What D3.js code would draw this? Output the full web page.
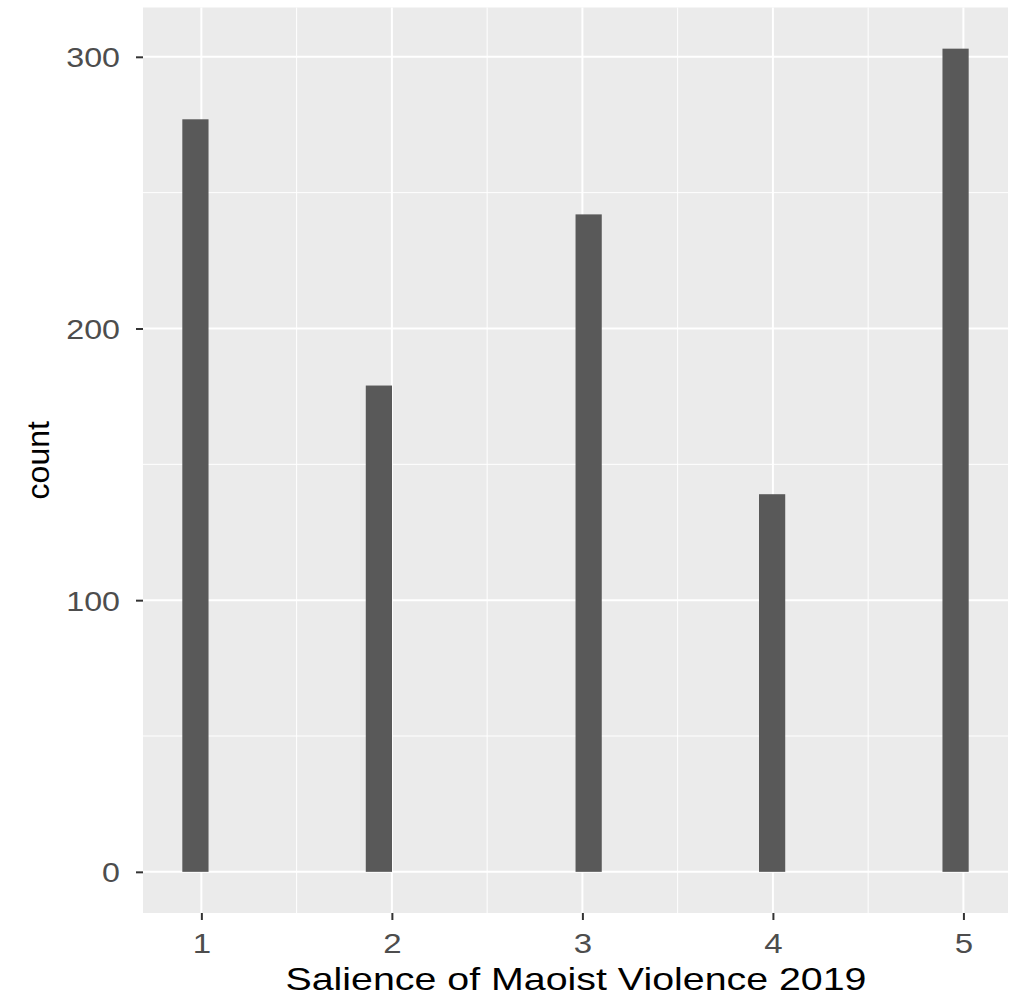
<!DOCTYPE html>
<html>
<head>
<meta charset="utf-8">
<script src="https://cdn.jsdelivr.net/npm/d3@7"></script>
<style>
  html, body { margin: 0; padding: 0; background: #ffffff; }
  svg { display: block; }
  text { font-family: "Liberation Sans", Arial, sans-serif; }
</style>
</head>
<body>
<svg id="chart" width="1012" height="1001"></svg>
<script>
// ---- data ----
const binStarts = [0.900, 1.863, 2.964, 3.927, 4.890]; // left edge of each histogram bin
const binWidth = 0.1376;                                // histogram bin width
const counts = [277, 179, 242, 139, 303];               // count per bin
const xTicks = [1, 2, 3, 4, 5];
const xMinor = [1.5, 2.5, 3.5, 4.5];
const yTicks = [0, 100, 200, 300];
const yMinor = [50, 150, 250];
const xTitle = "Salience of Maoist Violence 2019";
const yTitle = "count";

// ---- layout ----
const svg = d3.select("#chart");
const panel = { left: 143, right: 1008, top: 7.5, bottom: 913 };

const xLo = d3.min(binStarts), xHi = d3.max(binStarts) + binWidth;
const xPad = (xHi - xLo) * 0.05;
const x = d3.scaleLinear().domain([xLo - xPad, xHi + xPad]).range([panel.left, panel.right]);
const yMax = d3.max(counts), yPad = yMax * 0.05;
const y = d3.scaleLinear().domain([-yPad, yMax + yPad]).range([panel.bottom, panel.top]);

// panel background
svg.append("rect")
  .attr("x", panel.left).attr("y", panel.top)
  .attr("width", panel.right - panel.left).attr("height", panel.bottom - panel.top)
  .attr("fill", "#EBEBEB");

// grid
const g = svg.append("g");
g.selectAll(".ymin").data(yMinor).join("line")
  .attr("x1", panel.left).attr("x2", panel.right)
  .attr("y1", d => y(d)).attr("y2", d => y(d))
  .attr("stroke", "#ffffff").attr("stroke-width", 1);
g.selectAll(".xmin").data(xMinor).join("line")
  .attr("y1", panel.top).attr("y2", panel.bottom)
  .attr("x1", d => x(d)).attr("x2", d => x(d))
  .attr("stroke", "#ffffff").attr("stroke-width", 1);
g.selectAll(".ymaj").data(yTicks).join("line")
  .attr("x1", panel.left).attr("x2", panel.right)
  .attr("y1", d => y(d)).attr("y2", d => y(d))
  .attr("stroke", "#ffffff").attr("stroke-width", 2);
g.selectAll(".xmaj").data(xTicks).join("line")
  .attr("y1", panel.top).attr("y2", panel.bottom)
  .attr("x1", d => x(d)).attr("x2", d => x(d))
  .attr("stroke", "#ffffff").attr("stroke-width", 2);

// bars
svg.append("g").selectAll("rect").data(counts).join("rect")
  .attr("x", (d, i) => x(binStarts[i]))
  .attr("width", (d, i) => x(binStarts[i] + binWidth) - x(binStarts[i]))
  .attr("y", d => y(d))
  .attr("height", d => y(0) - y(d))
  .attr("fill", "#595959");

// axes
const xAxis = svg.append("g")
  .attr("transform", `translate(0,${panel.bottom})`)
  .call(d3.axisBottom(x).tickValues(xTicks).tickFormat(d3.format("d")).tickSize(7).tickPadding(0));
xAxis.select(".domain").remove();
xAxis.selectAll(".tick line").attr("stroke", "#333333").attr("stroke-width", 2);
xAxis.selectAll(".tick text")
  .attr("fill", "#4D4D4D").attr("font-size", 28).attr("dy", null).attr("y", 40)
  .attr("x", 0).attr("text-anchor", "middle").attr("transform", "scale(1.18,1)");

const yAxis = svg.append("g")
  .attr("transform", `translate(${panel.left},0)`)
  .call(d3.axisLeft(y).tickValues(yTicks).tickFormat(d3.format("d")).tickSize(7).tickPadding(0));
yAxis.select(".domain").remove();
yAxis.selectAll(".tick line").attr("stroke", "#333333").attr("stroke-width", 2);
yAxis.selectAll(".tick text")
  .attr("fill", "#4D4D4D").attr("font-size", 28).attr("dy", "0.36em")
  .attr("x", 0).attr("text-anchor", "end")
  .attr("transform", "translate(-23,0) scale(1.15,1)");

// axis titles
svg.append("text")
  .attr("x", (panel.left + panel.right) / 2 + 0.5).attr("y", 990)
  .attr("text-anchor", "middle").attr("font-size", 32).attr("fill", "#000")
  .attr("textLength", 581).attr("lengthAdjust", "spacingAndGlyphs")
  .text(xTitle);

svg.append("text")
  .attr("transform", `translate(49,${(panel.top + panel.bottom) / 2}) rotate(-90)`)
  .attr("text-anchor", "middle").attr("font-size", 32).attr("fill", "#000")
  .text(yTitle);
</script>
</body>
</html>
